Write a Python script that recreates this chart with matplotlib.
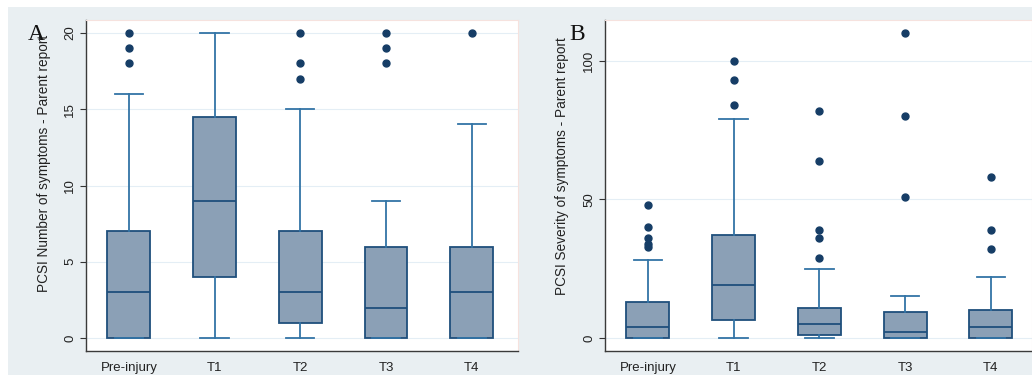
import matplotlib
matplotlib.use("Agg")
import matplotlib.pyplot as plt
from matplotlib.patches import Rectangle

# time points
groups = ["Pre-injury", "T1", "T2", "T3", "T4"]

# Panel A: PCSI number of symptoms (parent report)
a_whislo = [0, 0, 0, 0, 0]
a_q1 = [0, 4, 1, 0, 0]
a_med = [3, 9, 3, 2, 3]
a_q3 = [7, 14.5, 7, 6, 6]
a_whishi = [16, 20, 15, 9, 14]
a_fliers = [[18, 19, 20], [], [17, 18, 20], [18, 19, 20], [20]]

# Panel B: PCSI severity of symptoms (parent report)
b_whislo = [0, 0, 0, 0, 0]
b_q1 = [0, 6.5, 1, 0, 0]
b_med = [4, 19, 5, 2, 4]
b_q3 = [13, 37, 11, 9.5, 10]
b_whishi = [28, 79, 25, 15, 22]
b_fliers = [[33, 34, 36, 40, 48], [84, 93, 100], [29, 36, 39, 64, 82],
            [51, 80, 110], [32, 39, 58]]

BG = "#e9eff2"
FILL = "#8ba0b6"
EDGE = "#1f4f7c"
WHISK = "#3374a6"
DOT = "#163d66"


def make_stats(whislo, q1, med, q3, whishi, fliers):
    stats = []
    for i in range(len(groups)):
        stats.append({"whislo": whislo[i], "q1": q1[i], "med": med[i],
                      "q3": q3[i], "whishi": whishi[i], "fliers": fliers[i],
                      "label": groups[i]})
    return stats


def draw_panel(ax, stats, ylim, yticks, ylabel, label_xy):
    ax.bxp(stats, positions=range(1, len(groups) + 1), widths=0.5,
           capwidths=0.33, patch_artist=True, showfliers=True,
           boxprops=dict(facecolor=FILL, edgecolor=EDGE, linewidth=1.3),
           medianprops=dict(color=EDGE, linewidth=1.3),
           whiskerprops=dict(color=WHISK, linewidth=1.3),
           capprops=dict(color=WHISK, linewidth=1.3),
           flierprops=dict(marker="o", markerfacecolor=DOT, markeredgecolor=DOT,
                           markersize=5, linestyle="none"))
    ax.set_ylim(*ylim)
    ax.set_yticks(yticks)
    ax.set_yticklabels([str(t) for t in yticks], rotation=90, va="center",
                       fontsize=9.5, color="#222222")
    ax.tick_params(axis="y", length=4, width=0.8, color="#333333", pad=3)
    ax.tick_params(axis="x", length=0, pad=8, labelsize=9.5, labelcolor="#222222")
    ax.set_ylabel(ylabel, fontsize=9.8, color="#222222")
    ax.yaxis.set_label_coords(*label_xy)
    ax.yaxis.grid(True, color="#e4eef5", linewidth=0.8)
    ax.set_axisbelow(True)
    for s in ("left", "bottom"):
        ax.spines[s].set_color("#3a3a3a")
        ax.spines[s].set_linewidth(1.0)
    for s in ("top", "right"):
        ax.spines[s].set_color("#f6e2de")
        ax.spines[s].set_linewidth(0.8)


plt.rcParams["font.family"] = ["Liberation Sans", "DejaVu Sans"]
fig = plt.figure(figsize=(10.32, 3.83), dpi=100)
fig.patch.set_facecolor("white")
fig.patches.append(Rectangle((8 / 1032, 1 - 375 / 383), 1 - 8 / 1032, (375 - 7) / 383,
                             transform=fig.transFigure, facecolor=BG,
                             edgecolor="none", zorder=-10))

ax_a = fig.add_axes([86 / 1032, 1 - 351 / 383, (518 - 86) / 1032, 331 / 383])
draw_panel(ax_a, make_stats(a_whislo, a_q1, a_med, a_q3, a_whishi, a_fliers),
           (-0.85, 20.85), [0, 5, 10, 15, 20],
           "PCSI Number of symptoms - Parent report", (-0.081, 0.568))
ax_a.set_xlim(0.5, 5.54)

ax_b = fig.add_axes([605 / 1032, 1 - 351 / 383, (1032 - 605) / 1032, 331 / 383])
draw_panel(ax_b, make_stats(b_whislo, b_q1, b_med, b_q3, b_whishi, b_fliers),
           (-4.7, 114.8), [0, 50, 100],
           "PCSI Severity of symptoms - Parent report", (-0.085, 0.56))
ax_b.set_xlim(0.5, 5.48)

fig.text(36 / 1032, 1 - 35 / 383, "A", fontsize=17, ha="center", va="center",
         family=["Liberation Serif", "DejaVu Serif"], color="#111111")
fig.text(577 / 1032, 1 - 34 / 383, "B", fontsize=17, ha="center", va="center",
         family=["Liberation Serif", "DejaVu Serif"], color="#111111")

fig.savefig("out.png", dpi=100, facecolor=fig.get_facecolor())
